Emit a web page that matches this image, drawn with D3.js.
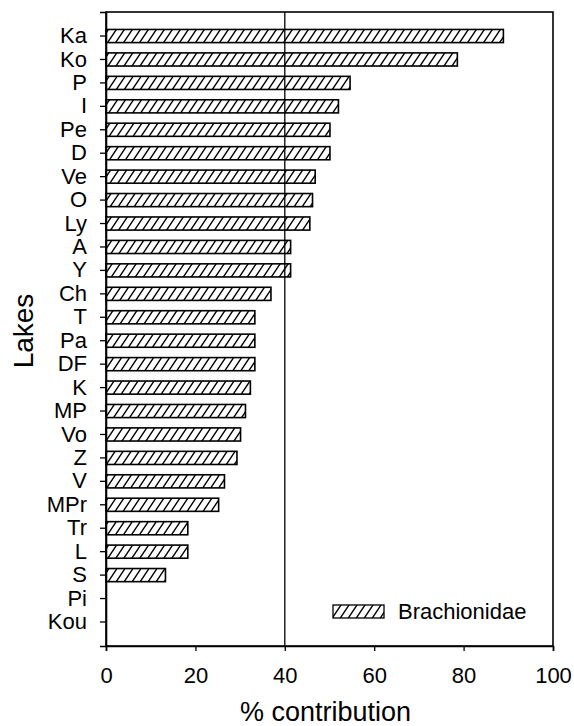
<!DOCTYPE html>
<html lang="en">
	<head>
		<meta charset="utf-8">
		<title>Brachionidae % contribution by lake</title>
		<script src="https://d3js.org/d3.v7.min.js"></script>
		<style>
			body { margin: 0; background: #fff; }
			text { font-family: "Liberation Sans", Arial, sans-serif; fill: #000; }
		</style>
	</head>
	<body>
		<div id="chart"></div>
		<script type="text/javascript">

			//Data
			var lakes = ["Ka", "Ko", "P", "I", "Pe", "D", "Ve", "O", "Ly", "A", "Y", "Ch", "T", "Pa", "DF",
			             "K", "MP", "Vo", "Z", "V", "MPr", "Tr", "L", "S", "Pi", "Kou"];
			var brachionidae = [88.9, 78.6, 54.6, 52.0, 50.1, 50.1, 46.8, 46.2, 45.6, 41.3, 41.3, 36.9, 33.3, 33.3, 33.3,
			                    32.3, 31.2, 30.1, 29.3, 26.5, 25.2, 18.3, 18.3, 13.3, 0, 0];
			var xTicks = [0, 20, 40, 60, 80, 100];
			var refLine = 40;
			var seriesName = "Brachionidae";

			//Width and height
			var w = 574;
			var h = 726;
			var plotL = 106, plotR = 553, plotT = 12, plotB = 646;

			var svg = d3.select("#chart")
						.append("svg")
						.attr("width", w)
						.attr("height", h);

			//Hatch pattern
			var pat = svg.append("defs")
				.append("pattern")
				.attr("id", "hatch")
				.attr("patternUnits", "userSpaceOnUse")
				.attr("width", 8)
				.attr("height", 12);
			pat.append("path")
				.attr("d", "M0,12 L8,0 M-2,3 L2,-3 M6,15 L10,9")
				.attr("stroke", "#000")
				.attr("stroke-width", 1.4);

			var x = d3.scaleLinear()
				.domain([0, 100])
				.range([plotL, plotR]);

			var y = d3.scaleBand()
				.domain(lakes)
				.range([plotT, plotB])
				.paddingInner(0.44)
				.paddingOuter(0.745);

			var data = lakes.map(function(d, i) { return {lake: d, val: brachionidae[i]}; });

			//Bars
			svg.selectAll("rect.bar")
				.data(data.filter(function(d) { return d.val > 0; }))
				.enter()
				.append("rect")
				.attr("class", "bar")
				.attr("x", x(0))
				.attr("y", function(d) { return y(d.lake); })
				.attr("width", function(d) { return x(d.val) - x(0); })
				.attr("height", y.bandwidth())
				.style("fill", "url(#hatch)")
				.style("stroke", "#000")
				.style("stroke-width", 1.6);

			//Reference line at 40
			svg.append("line")
				.attr("x1", x(refLine)).attr("x2", x(refLine))
				.attr("y1", plotT).attr("y2", plotB)
				.attr("stroke", "#000")
				.attr("stroke-width", 1.3);

			//Frame
			svg.append("rect")
				.attr("x", plotL).attr("y", plotT)
				.attr("width", plotR - plotL).attr("height", plotB - plotT)
				.attr("fill", "none")
				.attr("stroke", "#000")
				.attr("stroke-width", 1.6);

			//Axes
			var xAxis = svg.append("g")
				.attr("transform", "translate(0," + plotB + ")")
				.call(d3.axisBottom(x).tickValues(xTicks).tickSizeOuter(0).tickSize(5).tickPadding(16));

			var yAxis = svg.append("g")
				.attr("transform", "translate(" + plotL + ",0)")
				.call(d3.axisLeft(y).tickSizeOuter(0).tickSize(6).tickPadding(13));

			[xAxis, yAxis].forEach(function(a) {
				a.select(".domain").attr("stroke-width", 1.6);
				a.selectAll(".tick line").attr("stroke-width", 1.3);
				a.selectAll(".tick text")
					.style("font-size", "22px")
					.style("font-family", "'Liberation Sans', Arial, sans-serif");
			});

			//Axis titles
			svg.append("text")
				.attr("x", (plotL + plotR) / 2 - 4)
				.attr("y", 721)
				.attr("text-anchor", "middle")
				.style("font-size", "27px")
				.text("% contribution");

			svg.append("text")
				.attr("transform", "translate(33," + ((plotT + plotB) / 2 + 2) + ") rotate(-90)")
				.attr("text-anchor", "middle")
				.style("font-size", "28px")
				.text("Lakes");

			//Legend
			var lg = svg.append("g").attr("transform", "translate(333,605)");
			lg.append("rect")
				.attr("width", 51).attr("height", 13)
				.style("fill", "url(#hatch)")
				.style("stroke", "#000")
				.style("stroke-width", 1.3);
			lg.append("text")
				.attr("x", 65).attr("y", 14)
				.style("font-size", "22px")
				.text(seriesName);

		</script>
	</body>
</html>
